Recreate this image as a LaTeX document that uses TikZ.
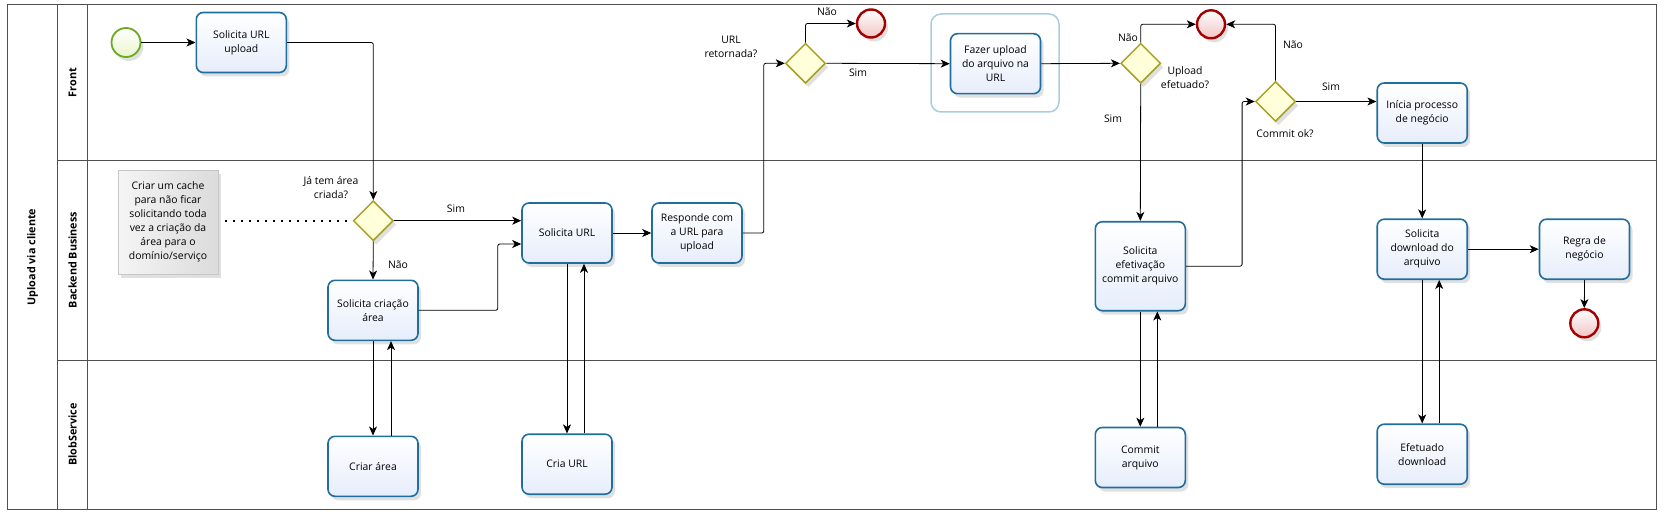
\documentclass[tikz,border=0pt]{standalone}
\usepackage{fontspec}
\setmainfont{Open Sans}
\usetikzlibrary{arrows.meta,shapes.geometric,shadows,calc}
\definecolor{taskblue}{HTML}{1F6E9F}
\definecolor{taskfill}{HTML}{E6EDFB}
\definecolor{gateolive}{HTML}{A8A023}
\definecolor{gatefill}{HTML}{FFFFDA}
\definecolor{startgreen}{HTML}{6BAA22}
\definecolor{startfill}{HTML}{E9F6CC}
\definecolor{endred}{HTML}{A50000}
\definecolor{endfill}{HTML}{F2C4C4}
\definecolor{grpblue}{HTML}{A9CDE0}
\definecolor{lanegray}{HTML}{505050}
\begin{document}
\begin{tikzpicture}[x=1pt, y=-1pt, font=\fontsize{10.4}{14}\selectfont]
    \tikzstyle{shade}=[drop shadow={shadow xshift=3pt, shadow yshift=-4pt, fill=black, opacity=0.12}]
    \tikzstyle{task}=[rectangle, rounded corners=7pt, draw=taskblue, line width=1.6pt, top color=white, bottom color=taskfill, minimum width=90pt, minimum height=60pt, align=center, inner sep=2pt, shade]
    \tikzstyle{gate}=[diamond, draw=gateolive, line width=1.5pt, fill=gatefill, minimum width=40pt, minimum height=40pt, inner sep=0pt, shade]
    \tikzstyle{startev}=[circle, draw=startgreen, line width=1.8pt, top color=white, bottom color=startfill, minimum size=29pt, inner sep=0pt, shade]
    \tikzstyle{endev}=[circle, draw=endred, line width=2.4pt, top color=white, bottom color=endfill, minimum size=28pt, inner sep=0pt, shade]
    \tikzstyle{lbl}=[align=center, inner sep=1pt]
    \tikzstyle{lane}=[font=\fontsize{10.8}{12}\selectfont\bfseries, rotate=90]
    \tikzstyle{flow}=[draw, line width=0.8pt, rounded corners=2pt, -{Stealth[length=9pt, width=8pt, inset=2.5pt]}]
    \useasboundingbox (0,0) rectangle (1665,516);
    % pool and lanes
    \draw[lanegray, line width=1pt] (7,5) rectangle (1656,509);
    \draw[lanegray, line width=1pt] (57.7,5) -- (57.7,509);
    \draw[lanegray, line width=1pt] (87.3,5) -- (87.3,509);
    \draw[lanegray, line width=1pt] (57.7,160) -- (1656,160);
    \draw[lanegray, line width=1pt] (57.7,360) -- (1656,360);
    \node[lane] (pool) at (32.5,257) {Upload via cliente};
    \node[lane] (front) at (72.5,82.5) {Front};
    \node[lane] (back) at (72.5,260) {Backend Business};
    \node[lane] (blob) at (72.5,434.5) {BlobService};
    % group
    \draw[grpblue, line width=1.5pt, rounded corners=10pt] (931,14) rectangle (1059,112);
    % annotation
    \node[rectangle, draw=gray!45, line width=0.8pt, left color=gray!8, right color=gray!28, minimum width=100pt, minimum height=104pt, align=center, inner sep=1pt, shade] (note) at (168,222) {Criar um cache\\para não ficar\\solicitando toda\\vez a criação da\\área para o\\domínio/serviço};
    % events and gateways
    \node[startev] (st) at (126,42.5) {};
    \node[gate] (g1) at (373.3,220.7) {};
    \node[gate] (g2) at (805.5,63.3) {};
    \node[gate] (g3) at (1140.7,63.3) {};
    \node[gate] (g4) at (1275.5,101.5) {};
    \node[endev] (e1) at (871,23.5) {};
    \node[endev] (e2) at (1211,24.3) {};
    \node[endev] (e3) at (1584.3,323.3) {};
    % tasks
    \node[task] (t1) at (241.3,42.5) {Solicita URL\\upload};
    \node[task] (t2) at (373,310.3) {Solicita criação\\área};
    \node[task] (t3) at (373,466.3) {Criar área};
    \node[task] (t4) at (567,233) {Solicita URL};
    \node[task] (t5) at (567,464.2) {Cria URL};
    \node[task] (t6) at (697,233) {Responde com\\a URL para\\upload};
    \node[task] (t7) at (995.5,63.7) {Fazer upload\\do arquivo na\\URL};
    \node[task, minimum height=89pt] (t8) at (1140.3,266.2) {Solicita\\efetivação\\commit arquivo};
    \node[task] (t9) at (1140.3,457.5) {Commit\\arquivo};
    \node[task] (t10) at (1422.2,113) {Inícia processo\\de negócio};
    \node[task] (t11) at (1422.2,249.2) {Solicita\\download do\\arquivo};
    \node[task] (t12) at (1422.2,454.2) {Efetuado\\download};
    \node[task] (t13) at (1584.5,249.2) {Regra de\\negócio};
    % labels
    \node[lbl] (lq1) at (331,188) {Já tem área\\criada?};
    \node[lbl] (lsim1) at (456,209) {Sim};
    \node[lbl] (lnao1) at (398,265) {Não};
    \node[lbl] (lq2) at (731,47) {URL\\retornada?};
    \node[lbl] (lnao2) at (827,12) {Não};
    \node[lbl] (lsim2) at (858,73) {Sim};
    \node[lbl] (lnao3) at (1128,38) {Não};
    \node[lbl] (lq3) at (1185,78) {Upload\\efetuado?};
    \node[lbl] (lsim3) at (1113,119) {Sim};
    \node[lbl] (lnao4) at (1293,45) {Não};
    \node[lbl] (lq4) at (1285,134) {Commit ok?};
    \node[lbl] (lsim4) at (1331,87) {Sim};
    % connectors
    \draw[line width=1.6pt, dash pattern=on 1.6pt off 6.4pt, shorten <=7pt] (note.east |- g1.west) -- (g1.west);
    \draw[flow] (st) -- (t1);
    \draw[flow] (t1.east) -| (g1.north);
    \draw[flow] (g1.east) -- (g1.east -| t4.west);
    \draw[flow] (g1.south) -- (t2.north);
    \draw[flow] (t2.east) -- ++(79,0) |- ($(t4.west)+(0,11)$);
    \draw[flow] (t2.south) -- (t3.north);
    \draw[flow] ($(t3.north)+(18,0)$) -- ($(t2.south)+(18,0)$);
    \draw[flow] (t4.east) -- (t6.west);
    \draw[flow] (t4.south) -- (t5.north);
    \draw[flow] ($(t5.north)+(17,0)$) -- ($(t4.south)+(17,0)$);
    \draw[flow] (t6.east) -- ++(21,0) |- (g2.west);
    \draw[flow] (g2.north) |- (e1.west);
    \draw[flow] (g2.east) -- (t7.west);
    \draw[flow] (t7.east) -- (g3.west);
    \draw[flow] (g3.north) |- (e2.west);
    \draw[flow] (g3.south) -- (t8.north);
    \draw[flow] (t8.east) -- ++(56,0) |- (g4.west);
    \draw[flow] (g4.north) |- (e2.east);
    \draw[flow] (g4.east) -- (g4.east -| t10.west);
    \draw[flow] (t8.south) -- (t9.north);
    \draw[flow] ($(t9.north)+(17,0)$) -- ($(t8.south)+(17,0)$);
    \draw[flow] (t10.south) -- (t11.north);
    \draw[flow] (t11.east) -- (t13.west);
    \draw[flow] (t11.south) -- (t12.north);
    \draw[flow] ($(t12.north)+(17,0)$) -- ($(t11.south)+(17,0)$);
    \draw[flow] (t13.south) -- (e3.north);
\end{tikzpicture}
\end{document}
